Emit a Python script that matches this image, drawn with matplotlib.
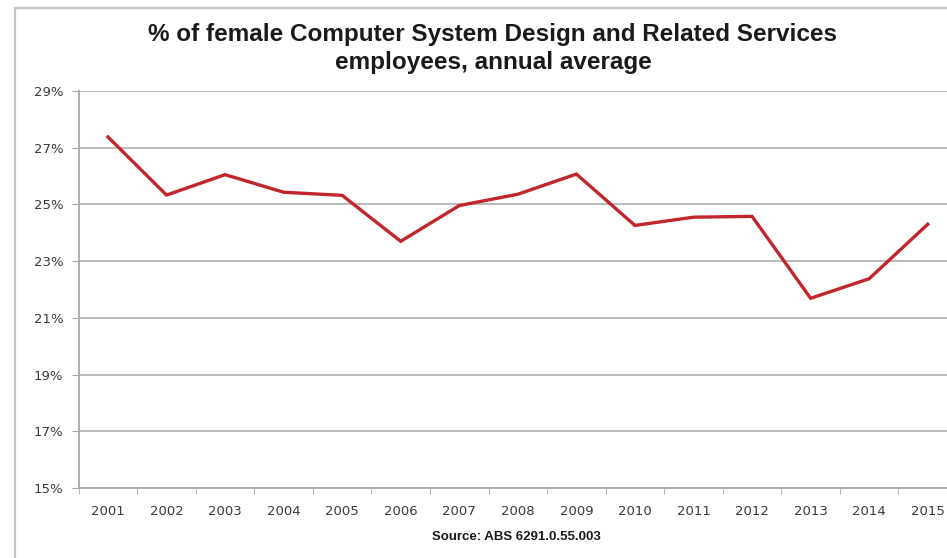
import matplotlib
matplotlib.use("Agg")
import matplotlib.pyplot as plt
from matplotlib.patches import Rectangle
from matplotlib.ticker import FixedLocator, NullFormatter

years = ["2001", "2002", "2003", "2004", "2005", "2006", "2007", "2008",
         "2009", "2010", "2011", "2012", "2013", "2014", "2015"]
female_pct = [27.38, 25.33, 26.05, 25.43, 25.32, 23.70, 24.96, 25.36,
              26.07, 24.26, 24.55, 24.58, 21.69, 22.38, 24.30]
y_ticks = [15, 17, 19, 21, 23, 25, 27, 29]

W, H = 947, 558
fig = plt.figure(figsize=(W / 100, H / 100), dpi=100)
fig.patch.set_facecolor("white")

# outer chart frame (cropped on right/bottom in the reference)
frame = Rectangle((15 / W, -0.05), 1.1, 1 - 8 / H + 0.05,
                  transform=fig.transFigure, fill=False,
                  edgecolor="#c4c4c4", linewidth=1.6)
fig.add_artist(frame)

ax = fig.add_axes([78.7 / W, 70 / H, (957 - 78.7) / W, (488 - 91) / H])
x = list(range(len(years)))
ax.plot(x, female_pct, color="#c0262c", linewidth=2.4, solid_joinstyle="miter",
        zorder=3)

ax.set_xlim(-0.5, len(years) - 0.5)
ax.set_ylim(15, 29)
ax.set_yticks(y_ticks)
ax.set_yticklabels([f"{v}%" for v in y_ticks])
ax.set_xticks(x)
ax.set_xticklabels(years)
ax.xaxis.set_minor_locator(FixedLocator([i + 0.5 for i in range(-1, len(years))]))
ax.xaxis.set_minor_formatter(NullFormatter())

ax.grid(axis="y", color="#b4b4b4", linewidth=1.3)
ax.set_axisbelow(True)
for side in ["top", "right"]:
    ax.spines[side].set_visible(False)
for side in ["left", "bottom"]:
    ax.spines[side].set_color("#a8a8a8")
    ax.spines[side].set_linewidth(1.3)

ax.tick_params(axis="y", length=5, color="#a8a8a8", labelsize=9.5,
               labelcolor="#3a3a3a", pad=6)
ax.tick_params(axis="x", which="major", length=0, labelsize=9.5,
               labelcolor="#3a3a3a", pad=12)
ax.tick_params(axis="x", which="minor", length=4, color="#a8a8a8")

title_font = dict(family="Liberation Sans", weight="bold", color="#1a1a1a")
fig.text(493 / W, 1 - 35 / H, "% of female Computer System Design and Related Services",
         ha="center", va="center", fontsize=17.5, **title_font)
fig.text(493 / W, 1 - 63 / H, "employees, annual average",
         ha="center", va="center", fontsize=17.5, **title_font)
fig.text(516 / W, 1 - 537 / H, "Source: ABS 6291.0.55.003",
         ha="center", va="center", fontsize=9.5, **title_font)

fig.savefig("out.png", dpi=100, facecolor="white")
